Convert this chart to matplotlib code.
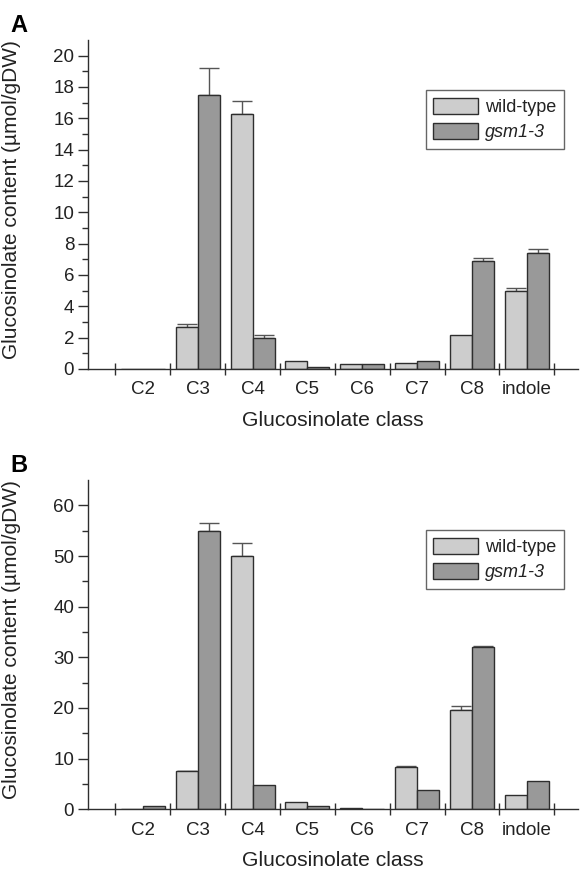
import numpy as np
import matplotlib
matplotlib.use('Agg')
import matplotlib.pyplot as plt

classes = ['C2', 'C3', 'C4', 'C5', 'C6', 'C7', 'C8', 'indole']
series_names = ['wild-type', 'gsm1-3']

# panel A values (umol/gDW) and upper error
a_wt = [0.0, 2.7, 16.3, 0.5, 0.3, 0.4, 2.2, 5.0]
a_wt_err = [0.0, 0.2, 0.8, 0.0, 0.0, 0.0, 0.0, 0.2]
a_gsm = [0.0, 17.5, 2.0, 0.1, 0.3, 0.5, 6.9, 7.4]
a_gsm_err = [0.0, 1.7, 0.2, 0.0, 0.0, 0.0, 0.2, 0.25]

# panel B values
b_wt = [0.0, 7.5, 50.0, 1.5, 0.2, 8.4, 19.6, 2.8]
b_wt_err = [0.0, 0.15, 2.5, 0.0, 0.0, 0.2, 0.7, 0.0]
b_gsm = [0.7, 54.9, 4.8, 0.7, 0.0, 3.8, 32.0, 5.6]
b_gsm_err = [0.0, 1.7, 0.0, 0.0, 0.0, 0.0, 0.25, 0.0]

wt_color = '#cdcdcd'
gsm_color = '#999999'
edge = '#2e2e2e'

plt.rcParams['font.family'] = ['Liberation Sans', 'DejaVu Sans']

fig = plt.figure(figsize=(5.81, 8.75), dpi=100)
ax_a = fig.add_axes([0.1515, 0.5783, 0.843, 0.376])
ax_b = fig.add_axes([0.1515, 0.0751, 0.843, 0.3763])


def draw_panel(ax, wt, wt_err, gsm, gsm_err, ymax, major, minor):
    x = np.arange(1, len(classes) + 1)
    w = 0.4
    ax.bar(x - w / 2, wt, width=w, color=wt_color, edgecolor=edge, linewidth=1.0,
           label=series_names[0], zorder=2)
    ax.bar(x + w / 2, gsm, width=w, color=gsm_color, edgecolor=edge, linewidth=1.0,
           label=series_names[1], zorder=2)
    for xs, vals, errs in [(x - w / 2, wt, wt_err), (x + w / 2, gsm, gsm_err)]:
        vals = np.array(vals)
        errs = np.array(errs)
        idx = np.where(errs > 0)[0]
        if len(idx) == 0:
            continue
        ax.errorbar(xs[idx], vals[idx], yerr=[np.zeros(len(idx)), errs[idx]],
                    fmt='none', ecolor='#555555', elinewidth=1.0, capsize=7,
                    capthick=1.0, zorder=1)
    ax.set_xlim(0, 8.93)
    ax.set_ylim(0, ymax)
    ax.set_xticks(np.arange(0.5, len(classes) + 0.6, 1.0))
    ax.set_xticklabels([])
    ax.set_xticks(x, minor=True)
    ax.set_xticklabels(classes, minor=True)
    ax.tick_params(axis='x', which='major', direction='inout', length=8, width=1.0,
                   color=edge)
    ax.tick_params(axis='x', which='minor', length=0, pad=9, labelsize=13.5,
                   labelcolor='#222222')
    ax.set_yticks(np.arange(0, ymax, major))
    ax.set_yticks(np.arange(0, ymax, minor), minor=True)
    ax.tick_params(axis='y', which='major', direction='out', length=7, width=1.0,
                   color=edge, labelsize=13.5, labelcolor='#222222', pad=3)
    ax.tick_params(axis='y', which='minor', direction='out', length=4, width=1.0,
                   color=edge)
    for side in ['top', 'right']:
        ax.spines[side].set_visible(False)
    for side in ['bottom', 'left']:
        ax.spines[side].set_linewidth(1.0)
        ax.spines[side].set_color(edge)
    ax.set_xlabel('Glucosinolate class', fontsize=15.2, color='#222222', labelpad=9)
    ax.set_ylabel('Glucosinolate content (µmol/gDW)', fontsize=15.0, color='#222222')
    ax.yaxis.set_label_coords(-0.137, 0.515)
    leg = ax.legend(loc='upper right', bbox_to_anchor=(0.971, 0.848), borderaxespad=0,
                    fontsize=13.0, handlelength=2.5, handleheight=1.0,
                    labelspacing=0.38, borderpad=0.42, handletextpad=0.35,
                    fancybox=False, framealpha=1, edgecolor='#666666')
    leg.get_frame().set_linewidth(1.0)
    leg.get_texts()[1].set_style('italic')
    for t in leg.get_texts():
        t.set_color('#222222')


draw_panel(ax_a, a_wt, a_wt_err, a_gsm, a_gsm_err, 21, 2, 1)
draw_panel(ax_b, b_wt, b_wt_err, b_gsm, b_gsm_err, 65, 10, 5)

fig.text(10 / 581, 1 - 32 / 875, 'A', fontsize=17, fontweight='bold', va='baseline')
fig.text(10 / 581, 1 - 472 / 875, 'B', fontsize=17, fontweight='bold', va='baseline')

fig.savefig('out.png', dpi=100)
